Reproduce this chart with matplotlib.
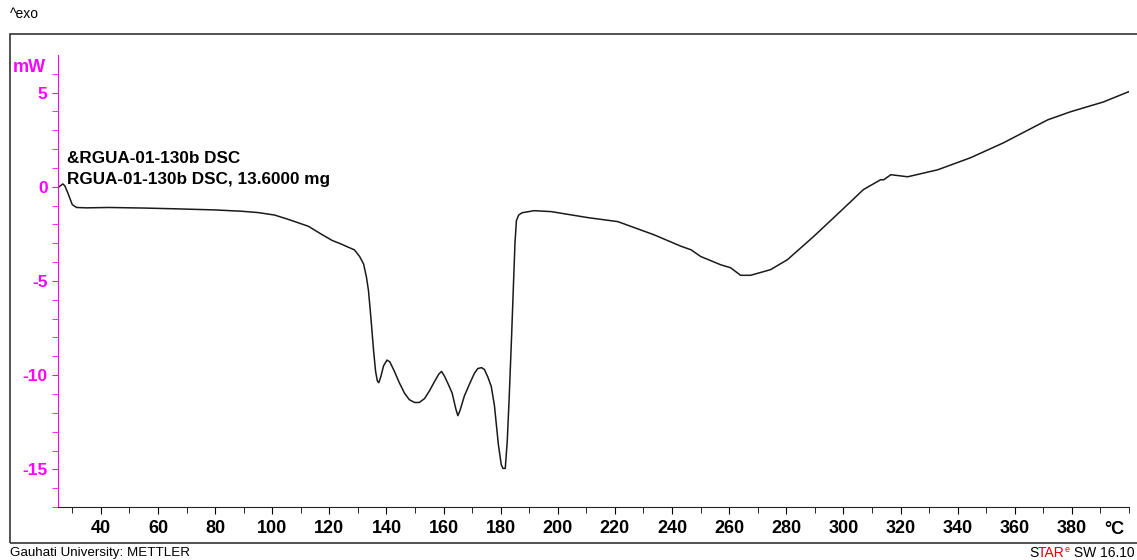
import matplotlib.pyplot as plt
from matplotlib.patches import Rectangle

# DSC curve (temperature in °C, heat flow in mW)
temperature = [25.4, 26.7, 27.4, 28.5, 30.0, 31.5, 35, 42.8, 55, 65.9, 80, 89.3, 95,
               100.8, 106, 112.7, 117, 121, 124.3, 126.5, 128.8, 130.6, 132, 133,
               133.7, 134.3, 134.8, 135.5, 136.2, 136.8, 137.3, 138, 139, 140.2,
               141.2, 142.8, 144.5, 146.3, 148, 149.8, 151.5, 153.3, 155, 156.8,
               158.3, 159.3, 160.3, 161.7, 163, 164.3, 165, 165.7, 167.3, 169, 170.8,
               172, 173.3, 174.3, 175.5, 176.7, 177.8, 179.2, 180.2, 180.8, 181.6,
               182.3, 183, 183.8, 184.4, 185, 185.5, 186.3, 187.5, 191.7, 197.7,
               210.6, 221, 233.7, 243, 246.7, 250, 257, 260.5, 264, 267.5, 274.5,
               280.4, 289.5, 299, 307, 313, 314.1, 316.6, 322.5, 333, 344.5, 356,
               371.5, 379.5, 391, 399.8]
heat_flow = [0.0, 0.15, 0.05, -0.35, -0.95, -1.1, -1.12, -1.1, -1.13, -1.17, -1.23,
             -1.3, -1.37, -1.5, -1.75, -2.1, -2.5, -2.85, -3.05, -3.2, -3.35, -3.7,
             -4.1, -4.8, -5.5, -6.5, -7.4, -8.7, -9.8, -10.3, -10.4, -10.1, -9.5,
             -9.2, -9.3, -9.8, -10.4, -10.95, -11.3, -11.45, -11.45, -11.25, -10.85,
             -10.35, -9.95, -9.8, -10.05, -10.5, -10.95, -11.8, -12.15, -11.9, -11.1,
             -10.5, -9.9, -9.65, -9.6, -9.7, -10.1, -10.6, -11.6, -13.7, -14.75,
             -14.95, -14.95, -13.5, -11.1, -8.0, -5.5, -3.0, -1.8, -1.5, -1.38,
             -1.27, -1.32, -1.64, -1.85, -2.55, -3.15, -3.35, -3.7, -4.14, -4.3,
             -4.7, -4.7, -4.4, -3.87, -2.65, -1.3, -0.15, 0.37, 0.37, 0.64, 0.53,
             0.9, 1.54, 2.33, 3.55, 3.98, 4.5, 5.04]

x_ticks = [40, 60, 80, 100, 120, 140, 160, 180, 200, 220, 240, 260, 280, 300,
           320, 340, 360, 380]
y_ticks = [5, 0, -5, -10, -15]

plt.rcParams['font.family'] = ['Liberation Sans', 'DejaVu Sans']
plt.rcParams['axes.unicode_minus'] = False
magenta = '#ff00ff'

fig = plt.figure(figsize=(11.37, 5.6), dpi=100)
ax = fig.add_axes([0.051, 0.0946, 0.942, 0.8074])

ax.plot(temperature, heat_flow, color='#1a1a1a', linewidth=1.1)

ax.set_xlim(25, 400)
ax.set_ylim(-17, 7)

ax.set_xticks(x_ticks)
ax.set_xticks(range(30, 401, 10), minor=True)
ax.set_yticks(y_ticks)
ax.set_yticks(range(-17, 7), minor=True)

for side in ['top', 'right']:
    ax.spines[side].set_visible(False)
ax.spines['left'].set_color(magenta)
ax.spines['bottom'].set_color('#222222')

ax.tick_params(axis='x', which='major', length=5, labelsize=13, pad=4)
ax.tick_params(axis='x', which='minor', length=4)
ax.tick_params(axis='y', which='both', colors=magenta, length=4, labelsize=12.5)
for lbl in ax.get_xticklabels() + ax.get_yticklabels():
    lbl.set_fontweight('bold')

# unit labels
ax.text(395, -17.75, '°C', fontsize=13, fontweight='bold', ha='center', va='top')
ax.text(-0.011, 6.35, 'mW', transform=ax.get_yaxis_transform(), ha='right',
        va='center', color=magenta, fontsize=13, fontweight='bold')

# curve labels
ax.text(28, 1.5, '&RGUA-01-130b DSC', fontsize=12.3, fontweight='bold', va='center')
ax.text(28, 0.4, 'RGUA-01-130b DSC, 13.6000 mg', fontsize=12.3, fontweight='bold',
        va='center')

# outer frame and page texts
fig.patches.append(Rectangle((10 / 1137, 17 / 560), 1.0, 509 / 560,
                             transform=fig.transFigure, fill=False,
                             edgecolor='#333333', linewidth=1.2))
fig.text(0.009, 0.975, '^exo', fontsize=10, va='center')
fig.text(0.009, 0.012, 'Gauhati University: METTLER', fontsize=9.6, va='center')

# "STARe SW 16.10" put together piece by piece
renderer = fig.canvas.get_renderer()
x_px = 1029
for piece, color, size, dy in [('S', 'black', 10, 0), ('TAR', '#e00000', 10, 0),
                               ('e', '#e00000', 6.5, 4), (' SW 16.10', 'black', 10, 0)]:
    t = fig.text(x_px / 1137, (7 + dy) / 560, piece, fontsize=size, color=color,
                 va='center')
    x_px += t.get_window_extent(renderer).width

fig.savefig('out.png', dpi=100)
